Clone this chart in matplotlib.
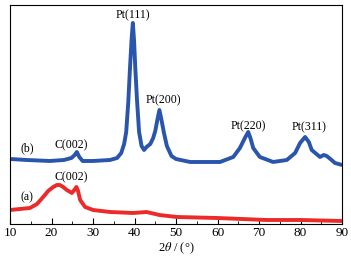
import numpy as np
import matplotlib
matplotlib.use('Agg')
import matplotlib.pyplot as plt
from matplotlib.ticker import MultipleLocator

plt.rcParams['font.family'] = ['Liberation Serif', 'DejaVu Serif']
plt.rcParams['mathtext.fontset'] = 'stix'

# (b) Pt/C pattern
x_b = [10, 14, 19.6, 23, 24.8, 25.6, 26.1, 26.7, 27.5, 30, 34.1, 35.8, 36.8, 37.5,
       38.0, 38.5, 38.9, 39.3, 39.6, 39.9, 40.2, 40.6, 41.1, 41.7, 42.3, 42.9, 43.8,
       44.5, 45.0, 45.5, 46.0, 46.5, 47.1, 47.8, 48.9, 50, 53.4, 60.6, 63.8, 65.4,
       66.6, 67.4, 68.0, 68.6, 70.2, 73.4, 76.7, 78.7, 79.9, 81.1, 82.0, 82.7, 84.7,
       85.6, 86.3, 87.2, 88.3, 90]
y_b = [65, 64, 63, 64, 66, 69, 72, 67, 63, 63, 64, 66, 71, 80,
       92, 122, 155, 185, 201, 183, 155, 124, 92, 78, 74, 77, 80,
       86, 93, 104, 114, 104, 91, 78, 68, 65, 62, 62, 67, 76,
       86, 92, 85, 76, 67, 62, 64, 71, 81, 87, 82, 74, 67,
       69, 68, 65, 61, 59]

# (a) carbon support pattern
x_a = [10, 14.8, 16.5, 18, 19.2, 20.4, 21.3, 22.0, 22.8, 23.7, 24.9, 25.5, 26.0,
       26.4, 26.9, 28.1, 30, 34.1, 39.7, 42.9, 46, 50.2, 59.9, 71.9, 80, 90]
y_a = [14, 16, 20, 27, 33, 37, 39, 39, 37, 34, 31, 34, 37,
       33, 24, 17, 14, 12, 11, 12, 9, 7, 6, 4, 4, 3]

labels = [('Pt(111)', 39.5, 209), ('Pt(200)', 47.0, 124), ('C(002)', 24.7, 79),
          ('C(002)', 24.7, 47), ('Pt(220)', 67.3, 98), ('Pt(311)', 82.0, 97),
          ('(b)', 14.1, 76), ('(a)', 14.0, 27)]

fig = plt.figure(figsize=(3.51, 2.58), dpi=100)
ax = fig.add_axes([0.0285, 0.1318, 0.9459, 0.849])

ax.plot(x_b, y_b, color='#2a55ad', lw=2.8, solid_joinstyle='round')
ax.plot(x_a, y_a, color='#ec2a2a', lw=2.8, solid_joinstyle='round')

for txt, xx, yy in labels:
    ax.text(xx, yy, txt, ha='center', va='center', fontsize=8.5)

ax.set_xlim(10, 90)
ax.set_ylim(0, 219)
ax.set_yticks([])
ax.xaxis.set_major_locator(MultipleLocator(10))
ax.xaxis.set_minor_locator(MultipleLocator(5))
ax.tick_params(axis='x', which='major', direction='in', length=4, labelsize=9.5, pad=2)
ax.tick_params(axis='x', which='minor', direction='in', length=2.5)
ax.set_xlabel(r'2$\theta$ / (°)', fontsize=9, labelpad=1)
for s in ax.spines.values():
    s.set_linewidth(0.8)

fig.savefig('out.png', dpi=100)
